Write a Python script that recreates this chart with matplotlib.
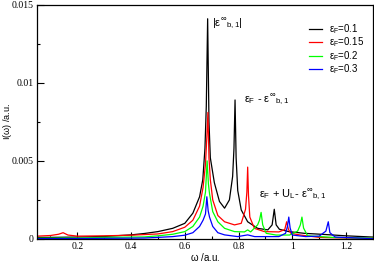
import matplotlib
matplotlib.use("Agg")
import matplotlib.pyplot as plt
from matplotlib.ticker import MultipleLocator

plt.rcParams['mathtext.fontset'] = 'custom'
plt.rcParams['mathtext.rm'] = 'Liberation Sans'
plt.rcParams['mathtext.it'] = 'Liberation Sans'
plt.rcParams['mathtext.sf'] = 'Liberation Sans'

# eps_F = 0.1
w_01 = [0.05, 0.10, 0.20, 0.30, 0.40, 0.45, 0.50, 0.555, 0.60, 0.63, 0.655, 0.667,
        0.675, 0.68, 0.685, 0.69, 0.695, 0.71, 0.729, 0.748, 0.766, 0.778, 0.783,
        0.787, 0.791, 0.797, 0.81, 0.834, 0.871, 0.909, 0.925, 0.933, 0.94, 0.952,
        0.987, 1.045, 1.107, 1.2, 1.3]
I_01 = [0.0001, 0.0001, 0.00012, 0.00016, 0.00026, 0.00035, 0.00047, 0.00068,
        0.0010, 0.00165, 0.0027, 0.0038, 0.0058, 0.0085, 0.0141, 0.0075, 0.0052,
        0.0036, 0.0024, 0.00197, 0.0025, 0.004, 0.0058, 0.0089, 0.0052, 0.0031,
        0.00186, 0.0011, 0.00068, 0.00058, 0.0009, 0.0019, 0.0009, 0.00062,
        0.00047, 0.00036, 0.0003, 0.0002, 0.00012]

# eps_F = 0.15
w_015 = [0.05, 0.10, 0.13, 0.147, 0.165, 0.20, 0.30, 0.40, 0.45, 0.50, 0.555,
         0.60, 0.63, 0.655, 0.668, 0.677, 0.682, 0.686, 0.69, 0.695, 0.704, 0.723,
         0.748, 0.785, 0.81, 0.826, 0.831, 0.834, 0.837, 0.842, 0.859, 0.896,
         0.95, 0.972, 0.979, 0.986, 0.995, 1.03, 1.1, 1.2, 1.3]
I_015 = [0.00018, 0.00022, 0.0003, 0.0004, 0.00025, 0.00018, 0.0002, 0.00024,
         0.00028, 0.00032, 0.00047, 0.00075, 0.0012, 0.0021, 0.0033, 0.0048,
         0.0065, 0.0081, 0.0052, 0.0038, 0.0025, 0.0015, 0.0011, 0.0009, 0.001,
         0.0019, 0.0030, 0.0046, 0.0028, 0.0014, 0.00068, 0.00047, 0.00045,
         0.0006, 0.0011, 0.0006, 0.00036, 0.00025, 0.0001, 0.00006, 0.00004]

# eps_F = 0.2
w_02 = [0.05, 0.2, 0.3, 0.4, 0.45, 0.5, 0.555, 0.60, 0.63, 0.655, 0.668, 0.677,
        0.683, 0.688, 0.692, 0.704, 0.723, 0.748, 0.785, 0.822, 0.834, 0.845,
        0.871, 0.878, 0.884, 0.89, 0.903, 0.94, 0.99, 1.02, 1.03, 1.036, 1.042,
        1.057, 1.15, 1.3]
I_02 = [0.00005, 0.00006, 0.0001, 0.00012, 0.00013, 0.0002, 0.0003, 0.00047,
        0.0008, 0.0014, 0.0021, 0.0030, 0.0050, 0.0035, 0.0029, 0.00175, 0.0011,
        0.00068, 0.00047, 0.00045, 0.00058, 0.00045, 0.0009, 0.0012, 0.0017,
        0.0009, 0.00036, 0.00025, 0.00025, 0.0005, 0.0009, 0.0014, 0.0007,
        0.0002, 0.0001, 0.00005]

# eps_F = 0.3
w_03 = [0.05, 0.2, 0.3, 0.4, 0.45, 0.5, 0.555, 0.60, 0.63, 0.655, 0.668, 0.677,
        0.682, 0.687, 0.692, 0.704, 0.723, 0.748, 0.797, 0.834, 0.86, 0.95,
        0.975, 0.982, 0.987, 0.992, 1.0, 1.05, 1.1, 1.125, 1.134, 1.14, 1.16, 1.3]
I_03 = [0.00002, 0.00003, 0.00004, 0.00005, 0.00006, 0.0001, 0.00015, 0.00024,
        0.0004, 0.0008, 0.0012, 0.0016, 0.0027, 0.0018, 0.0014, 0.0008, 0.0004,
        0.00026, 0.00015, 0.00026, 0.00015, 0.00015, 0.00036, 0.0008, 0.0014,
        0.0007, 0.00025, 0.00015, 0.00018, 0.0005, 0.0011, 0.0004, 0.00012,
        0.00002]

labels = [r'$\varepsilon_F$=0.1', r'$\varepsilon_F$=0.15',
          r'$\varepsilon_F$=0.2', r'$\varepsilon_F$=0.3']

fig = plt.figure(figsize=(3.74, 2.62), dpi=100)
ax = fig.add_axes([0.099, 0.088, 0.898, 0.894])

ax.plot(w_01, I_01, color='black', lw=0.9, label=labels[0])
ax.plot(w_015, I_015, color='red', lw=0.9, label=labels[1])
ax.plot(w_02, I_02, color='#00ff00', lw=0.9, label=labels[2])
ax.plot(w_03, I_03, color='blue', lw=0.9, label=labels[3])

ax.set_xlim(0.05, 1.3)
ax.set_ylim(0, 0.015)
ax.xaxis.set_minor_locator(MultipleLocator(0.1))
ax.yaxis.set_minor_locator(MultipleLocator(0.0025))
ax.set_xticks([0.2, 0.4, 0.6, 0.8, 1.0, 1.2])
ax.set_xticklabels(['0.2', '0.4', '0.6', '0.8', '1', '1.2'])
ax.set_yticks([0, 0.005, 0.01, 0.015])
ax.set_yticklabels(['0', '0.005', '0.01', '0.015'])
ax.tick_params(which='both', direction='in', top=False, right=False)
ax.tick_params(which='major', length=5, width=0.8, pad=2.5)
ax.tick_params(which='minor', length=2.5, width=0.8)
for lab in ax.get_xticklabels() + ax.get_yticklabels():
    lab.set_family('Liberation Serif')
    lab.set_fontsize(7)
for s in ax.spines.values():
    s.set_linewidth(0.9)

ax.set_xlabel(r'$\omega$ /a.u.', family='Liberation Sans', fontsize=7)
ax.set_ylabel(r'I($\omega$) /a.u.', family='Liberation Sans', fontsize=6.5)
ax.xaxis.set_label_coords(0.5, -0.05)
ax.yaxis.set_label_coords(-0.07, 0.5)

ax.text(0.703, 0.0138, r'$|\varepsilon^{\infty}{}_{b,1}|$', fontsize=8, va='center')
ax.text(0.822, 0.0089, r'$\varepsilon_F$ - $\varepsilon^{\infty}{}_{b,1}$',
        fontsize=8, va='center', family='Liberation Sans')
ax.text(0.876, 0.0028, r'$\varepsilon_F$ + U$_L$- $\varepsilon^{\infty}{}_{b,1}$',
        fontsize=8, va='center', family='Liberation Sans')

ax.legend(loc='upper left', bbox_to_anchor=(0.81, 0.925), frameon=False,
          prop={'family': 'Liberation Sans', 'size': 7}, handlelength=1.35,
          handletextpad=0.7, labelspacing=-0.05, borderpad=0, borderaxespad=0)

fig.savefig('out.png', dpi=100)
